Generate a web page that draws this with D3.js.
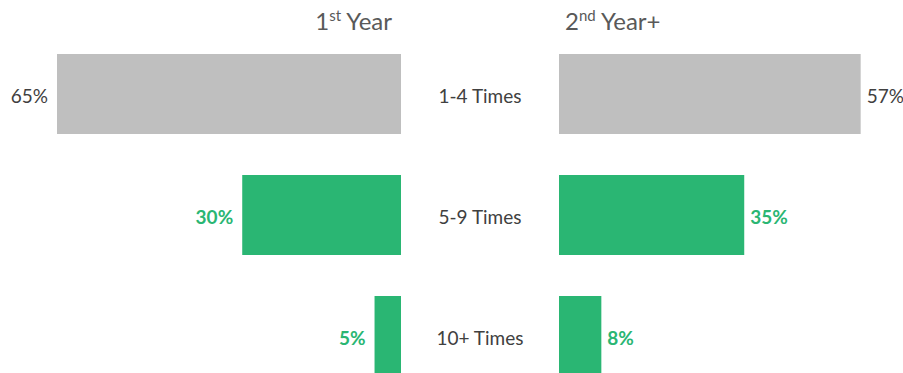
<!DOCTYPE html>
<html>
<head>
<meta charset="utf-8">
<script src="https://cdn.jsdelivr.net/npm/d3@7"></script>
<style>
    body { margin: 0; background: #fff; }
    text { font-family: Lato, "Open Sans", sans-serif; }
</style>
</head>
<body>
<div id="wrapper"></div>
<script>
const categories = ["1-4 Times", "5-9 Times", "10+ Times"];
const firstYear = [65, 30, 5];
const secondYear = [57, 35, 8];
const highlight = [false, true, true];

let dimension = {
    width: 903,
    height: 373,
    leftAxis: 401,
    rightAxis: 559,
    center: 480,
    top: 54
}

const svg = d3.select("#wrapper").append("svg")
    .attr("width", dimension.width)
    .attr("height", dimension.height);

const xScale = d3.scaleLinear()
    .domain([0, 65])
    .range([0, 344]);

// bars 80px tall, 41px gap
const yScale = d3.scaleBand()
    .domain(categories)
    .range([dimension.top, dimension.top + 80 * 3 + 41 * 2])
    .paddingInner(41 / 121)
    .paddingOuter(0);

const grey = "#bfbfbf";
const green = "#2ab673";
const colour = i => highlight[i] ? green : grey;

// titles
const t1 = svg.append("text")
    .attr("x", 392).attr("y", 30)
    .attr("text-anchor", "end")
    .attr("font-size", 24)
    .attr("fill", "#595959");
t1.append("tspan").text("1");
t1.append("tspan").text("st").attr("font-size", 15).attr("dy", -9);
t1.append("tspan").text(" Year").attr("dy", 9);

const t2 = svg.append("text")
    .attr("x", 565).attr("y", 30)
    .attr("font-size", 24)
    .attr("fill", "#595959");
t2.append("tspan").text("2");
t2.append("tspan").text("nd").attr("font-size", 15).attr("dy", -9);
t2.append("tspan").text(" Year+").attr("dy", 9);

// left bars
svg.selectAll("rect.left")
    .data(firstYear)
    .enter()
    .append("rect")
    .attr("class", "left")
    .attr("x", d => dimension.leftAxis - xScale(d))
    .attr("y", (d, i) => yScale(categories[i]))
    .attr("width", d => xScale(d))
    .attr("height", yScale.bandwidth())
    .attr("fill", (d, i) => colour(i));

// right bars
svg.selectAll("rect.right")
    .data(secondYear)
    .enter()
    .append("rect")
    .attr("class", "right")
    .attr("x", dimension.rightAxis)
    .attr("y", (d, i) => yScale(categories[i]))
    .attr("width", d => xScale(d))
    .attr("height", yScale.bandwidth())
    .attr("fill", (d, i) => colour(i));

// value labels
svg.selectAll("text.lval")
    .data(firstYear)
    .enter()
    .append("text")
    .attr("class", "lval")
    .attr("x", d => dimension.leftAxis - xScale(d) - 9)
    .attr("y", (d, i) => yScale(categories[i]) + yScale.bandwidth() / 2)
    .attr("dy", "0.45em")
    .attr("text-anchor", "end")
    .attr("font-size", 19)
    .attr("font-weight", (d, i) => highlight[i] ? "bold" : "normal")
    .attr("fill", (d, i) => highlight[i] ? green : "#404040")
    .text(d => d + "%");

svg.selectAll("text.rval")
    .data(secondYear)
    .enter()
    .append("text")
    .attr("class", "rval")
    .attr("x", d => dimension.rightAxis + xScale(d) + 6)
    .attr("y", (d, i) => yScale(categories[i]) + yScale.bandwidth() / 2)
    .attr("dy", "0.45em")
    .attr("font-size", 19)
    .attr("font-weight", (d, i) => highlight[i] ? "bold" : "normal")
    .attr("fill", (d, i) => highlight[i] ? green : "#404040")
    .text(d => d + "%");

// category labels
svg.selectAll("text.cat")
    .data(categories)
    .enter()
    .append("text")
    .attr("class", "cat")
    .attr("x", dimension.center)
    .attr("y", d => yScale(d) + yScale.bandwidth() / 2)
    .attr("dy", "0.45em")
    .attr("text-anchor", "middle")
    .attr("font-size", 19)
    .attr("fill", "#404040")
    .text(d => d);
</script>
</body>
</html>
